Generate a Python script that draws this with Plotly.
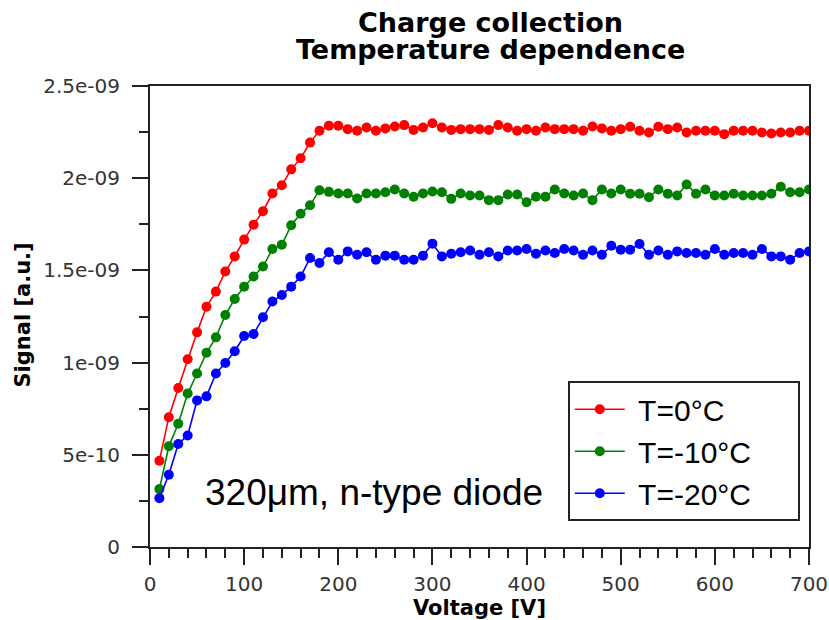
import plotly.graph_objects as go

voltage = [10, 20, 30, 40, 50, 60, 70, 80, 90, 100, 110, 120, 130, 140, 150, 160, 170, 180,
           190, 200, 210, 220, 230, 240, 250, 260, 270, 280, 290, 300, 310, 320, 330, 340,
           350, 360, 370, 380, 390, 400, 410, 420, 430, 440, 450, 460, 470, 480, 490, 500,
           510, 520, 530, 540, 550, 560, 570, 580, 590, 600, 610, 620, 630, 640, 650, 660,
           670, 680, 690, 700]

# signal values in units of 1e-9 (a.u.)
signal_0C = [0.468, 0.704, 0.862, 1.018, 1.164, 1.303, 1.385, 1.494, 1.576, 1.667, 1.748, 1.821,
             1.917, 1.962, 2.048, 2.108, 2.193, 2.257,
             2.284, 2.284, 2.266, 2.257, 2.275,
             2.257, 2.270, 2.280, 2.288, 2.262, 2.275, 2.298, 2.275, 2.262, 2.266, 2.266, 2.266,
             2.262, 2.288, 2.275, 2.257, 2.266, 2.257, 2.275, 2.266, 2.266, 2.266, 2.257, 2.280,
             2.270, 2.257,
             2.266, 2.279, 2.257, 2.248, 2.279, 2.266, 2.275, 2.248, 2.257, 2.257, 2.257, 2.239,
             2.257, 2.257, 2.257, 2.248, 2.242, 2.248, 2.248, 2.257, 2.257]
signal_m10C = [0.314, 0.546, 0.668, 0.832, 0.941, 1.053, 1.137, 1.258, 1.345, 1.411, 1.467, 1.521,
               1.616, 1.639, 1.745, 1.807, 1.853, 1.935,
               1.926, 1.917, 1.917, 1.890, 1.917,
               1.917, 1.924, 1.939, 1.917, 1.899, 1.917, 1.928, 1.924, 1.888, 1.917, 1.906, 1.906,
               1.881, 1.881, 1.912, 1.912, 1.870, 1.899, 1.899, 1.939, 1.917, 1.906, 1.917, 1.881,
               1.939, 1.917,
               1.939, 1.916, 1.916, 1.897, 1.939, 1.916, 1.906, 1.966, 1.916, 1.939, 1.906, 1.906,
               1.916, 1.906, 1.906, 1.906, 1.916, 1.954, 1.924, 1.924, 1.939]
signal_m20C = [0.265, 0.392, 0.559, 0.605, 0.795, 0.817, 0.941, 0.998, 1.062, 1.144, 1.155, 1.246,
               1.331, 1.367, 1.412, 1.467, 1.567, 1.540,
               1.598, 1.558, 1.603, 1.585, 1.598,
               1.558, 1.580, 1.580, 1.558, 1.558, 1.580, 1.645, 1.576, 1.590, 1.598, 1.608, 1.585,
               1.598, 1.576, 1.608, 1.608, 1.616, 1.590, 1.608, 1.594, 1.616, 1.608, 1.585, 1.608,
               1.585, 1.634,
               1.612, 1.612, 1.643, 1.585, 1.608, 1.585, 1.603, 1.594, 1.594, 1.585, 1.616, 1.585,
               1.594, 1.594, 1.585, 1.616, 1.576, 1.576, 1.558, 1.594, 1.603]

series_names = ["T=0°C", "T=-10°C", "T=-20°C"]
series_colors = ["#ff0000", "#008000", "#0000ff"]
series_values = [signal_0C, signal_m10C, signal_m20C]

y_tickvals = [0, 5e-10, 1e-9, 1.5e-9, 2e-9, 2.5e-9]
y_ticktext = ["0", "5e-10", "1e-09", "1.5e-09", "2e-09", "2.5e-09"]
x_tickvals = [0, 100, 200, 300, 400, 500, 600, 700]

title_lines = ["Charge collection", "Temperature dependence"]
x_title = "Voltage [V]"
y_title = "Signal [a.u.]"
note_text = "320μm, n-type diode"

LEAD = "\u00a0"        # gap between legend symbol and label
PAD = "\u00a0" * 5     # right padding inside the legend box

fig = go.Figure()
for name, color, vals in zip(series_names, series_colors, series_values):
    fig.add_trace(go.Scatter(
        x=voltage, y=[v * 1e-9 for v in vals], name=LEAD + name + PAD, mode="lines+markers",
        line=dict(color=color, width=1.6),
        marker=dict(color=color, size=10, symbol="circle"),
    ))

axis_common = dict(
    showline=True, linecolor="#222", linewidth=2, mirror=True,
    ticks="outside", ticklen=16, tickwidth=2, tickcolor="#222",
    showgrid=False, zeroline=False, automargin=False,
    tickfont=dict(family="DejaVu Sans", size=20, color="#333"),
)

fig.update_xaxes(
    range=[0, 700], tickvals=x_tickvals,
    minor=dict(dtick=20, tick0=0, ticks="outside", ticklen=9, tickwidth=2, tickcolor="#222"),
    title=dict(text="<b>" + x_title + "</b>",
               font=dict(family="DejaVu Sans", size=21, color="black"), standoff=4),
    ticklabelstandoff=2,
    **axis_common,
)
fig.update_yaxes(
    range=[0, 2.5e-9], tickvals=y_tickvals, ticktext=y_ticktext,
    minor=dict(dtick=2.5e-10, tick0=0, ticks="outside", ticklen=9, tickwidth=2, tickcolor="#222"),
    ticklabelstandoff=8,
    **axis_common,
)

# y-axis title placed as rotated annotation (closer to the edge than plotly's title allows)
fig.add_annotation(
    text="<b>" + y_title + "</b>", xref="paper", yref="paper",
    x=-0.192, y=0.503, xanchor="center", yanchor="middle", textangle=-90, showarrow=False,
    font=dict(family="DejaVu Sans", size=21, color="black"),
)

fig.add_annotation(
    text=note_text, xref="paper", yref="paper",
    x=0.080, y=0.119, xanchor="left", yanchor="middle", showarrow=False,
    font=dict(family="Liberation Sans", size=37, color="black"),
)

for line_text, ypos in zip(title_lines, [1.137, 1.079]):
    fig.add_annotation(
        text="<b>" + line_text + "</b>", xref="paper", yref="paper",
        x=0.517, y=ypos, xanchor="center", yanchor="middle", showarrow=False,
        font=dict(family="DejaVu Sans", size=27, color="black"), borderpad=0,
    )

fig.update_layout(
    width=829, height=620,
    margin=dict(l=150, r=20, t=86, b=73),
    paper_bgcolor="white", plot_bgcolor="white",
    legend=dict(
        x=0.986, y=0.056, xanchor="right", yanchor="bottom",
        bgcolor="white", bordercolor="#222", borderwidth=2,
        font=dict(family="Liberation Sans", size=30, color="black"),
        tracegroupgap=0, itemwidth=50,
    ),
    showlegend=True,
)

fig.write_html("out.html")
